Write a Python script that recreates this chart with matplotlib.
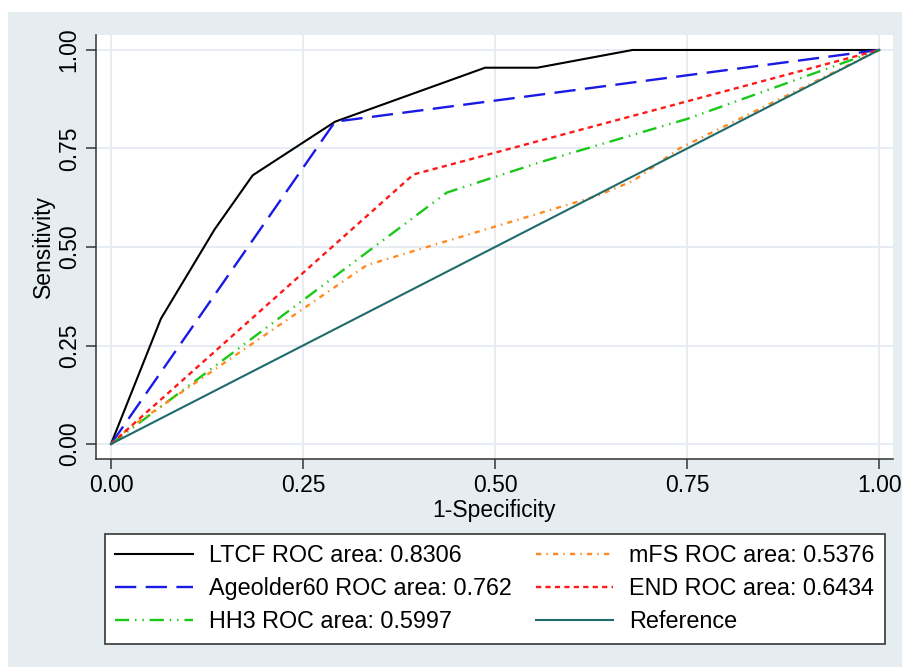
import matplotlib
matplotlib.use("Agg")
import matplotlib.pyplot as plt
from matplotlib.patches import Rectangle

plt.rcParams['font.family'] = ['Liberation Sans', 'DejaVu Sans']

# ROC curve points (1-specificity, sensitivity)
ltcf_x = [0.0, 0.065, 0.135, 0.1845, 0.2917, 0.487, 0.555, 0.679, 1.0]
ltcf_y = [0.0, 0.318, 0.545, 0.682, 0.818, 0.955, 0.955, 1.0, 1.0]

age_x = [0.0, 0.2917, 1.0]
age_y = [0.0, 0.818, 1.0]

hh3_x = [0.0, 0.437, 0.56, 0.75, 1.0]
hh3_y = [0.0, 0.638, 0.716, 0.825, 1.0]

mfs_x = [0.0, 0.022, 0.333, 0.63, 0.68, 0.74, 1.0]
mfs_y = [0.0, 0.038, 0.454, 0.628, 0.668, 0.75, 1.0]

end_x = [0.0, 0.3937, 1.0]
end_y = [0.0, 0.684, 1.0]

ref_x = [0.0, 1.0]
ref_y = [0.0, 1.0]

labels = ['LTCF ROC area: 0.8306', 'Ageolder60 ROC area: 0.762',
          'HH3 ROC area: 0.5997', 'mFS ROC area: 0.5376',
          'END ROC area: 0.6434', 'Reference']
ticks = [0.0, 0.25, 0.5, 0.75, 1.0]
tick_labels = ['0.00', '0.25', '0.50', '0.75', '1.00']

bg = '#e6edf1'
W, H = 903, 667
fig = plt.figure(figsize=(W / 100, H / 100), dpi=100, facecolor='white')
fig.patches.append(Rectangle((8 / W, 0), 1, 1 - 12 / H, transform=fig.transFigure,
                             facecolor=bg, edgecolor='none', zorder=-10))

ax = fig.add_axes([96 / W, 1 - 459 / H, (893 - 96) / W, (459 - 35) / H])
ax.set_facecolor('white')

h1, = ax.plot(ltcf_x, ltcf_y, color='black', lw=1.5)
h2, = ax.plot(age_x, age_y, color='#1a1ae6', lw=1.7, dashes=(9, 4))
h3, = ax.plot(hh3_x, hh3_y, color='#19c819', lw=1.7, dashes=(6, 2.5, 0.6, 2.5, 0.6, 2.5))
h4, = ax.plot(mfs_x, mfs_y, color='#ff8a1f', lw=1.7, dashes=(2.2, 2.2, 0.6, 2.2))
h5, = ax.plot(end_x, end_y, color='#ff1a1a', lw=1.7, dashes=(2.2, 1.8))
h6, = ax.plot(ref_x, ref_y, color='#1f6b6b', lw=1.5)

ax.set_xlim(-0.0195, 1.018)
ax.set_ylim(-0.038, 1.038)
ax.set_xticks(ticks)
ax.set_xticklabels(tick_labels)
ax.set_yticks(ticks)
ax.set_yticklabels(tick_labels, rotation=90, va='center')
ax.tick_params(labelsize=16.5, length=7, width=1.1, color='#333333', pad=4)
ax.grid(color='#e4ebf0', lw=1.3)
ax.set_axisbelow(True)
for s in ['top', 'right']:
    ax.spines[s].set_visible(False)
for s in ['left', 'bottom']:
    ax.spines[s].set_color('#333333')
    ax.spines[s].set_linewidth(1.1)

ax.set_xlabel('1-Specificity', fontsize=16.5, labelpad=1)
ax.set_ylabel('Sensitivity', fontsize=16.5, labelpad=2)

leg = fig.legend([h1, h2, h3, h4, h5, h6], labels, ncol=2,
                 loc='upper left',
                 bbox_to_anchor=(105 / W, 1 - 640 / H, 780 / W, 106 / H),
                 mode='expand', borderaxespad=0, fontsize=16.8,
                 handlelength=3.3, handletextpad=0.7, columnspacing=1.2,
                 labelspacing=0.42, borderpad=0.45, fancybox=False,
                 frameon=True, facecolor='white', edgecolor='#444444',
                 framealpha=1)
leg.get_frame().set_linewidth(1.3)

fig.savefig('out.png', dpi=100, facecolor='white')
